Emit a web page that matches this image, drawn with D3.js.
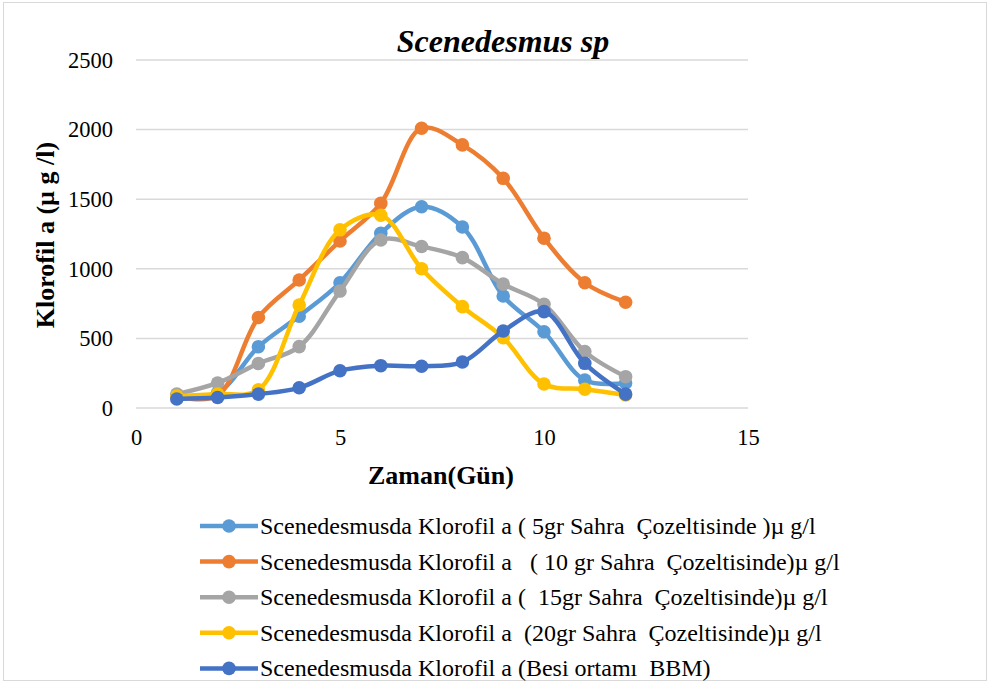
<!DOCTYPE html>
<html><head><meta charset="utf-8">
<script src="https://cdn.jsdelivr.net/npm/d3@7"></script>
<style>body{margin:0;background:#fff}svg{display:block}text{font-family:"Liberation Serif","Times New Roman",serif}</style>
</head><body><svg id="c" width="990" height="684"></svg>
<script>
const days = [1,2,3,4,5,6,7,8,9,10,11,12];
const s5gr  = [90,110,440,660,900,1255,1446,1300,805,548,200,180];
const s10gr = [80,90,650,920,1200,1470,2010,1890,1650,1220,900,760];
const s15gr = [100,180,320,441,840,1207,1160,1080,890,745,405,225];
const s20gr = [85,100,130,740,1280,1385,1000,728,505,172,135,93];
const sBBM  = [65,75,100,145,268,304,300,330,553,692,321,100];
const seriesNames = [
 "Scenedesmusda Klorofil a ( 5gr Sahra  Çozeltisinde )µ g/l",
 "Scenedesmusda Klorofil a   ( 10 gr Sahra  Çozeltisinde)µ g/l",
 "Scenedesmusda Klorofil a (  15gr Sahra  Çozeltisinde)µ g/l",
 "Scenedesmusda Klorofil a  (20gr Sahra  Çozeltisinde)µ g/l",
 "Scenedesmusda Klorofil a (Besi ortamı  BBM)"
];
const seriesColors = ["#5B9BD5","#ED7D31","#A5A5A5","#FFC000","#4472C4"];
const xTicks = [0,5,10,15];
const yTicks = [0,500,1000,1500,2000,2500];
const allSeries = [s5gr,s10gr,s15gr,s20gr,sBBM];

const serif = '"Liberation Serif","Times New Roman",serif';
const svg = d3.select("#c");
svg.append("rect").attr("x",3.5).attr("y",2.5).attr("width",983).attr("height",678)
  .attr("fill","#fff").attr("stroke","#D9D9D9").attr("stroke-width",1);

const x = d3.scaleLinear().domain([0,15]).range([136,748]);
const y = d3.scaleLinear().domain([0,2500]).range([408,60]);

// gridlines
svg.append("g").selectAll("line").data(yTicks).join("line")
  .attr("x1",x(0)).attr("x2",x(15)).attr("y1",d=>y(d)).attr("y2",d=>y(d))
  .attr("stroke","#D9D9D9").attr("stroke-width",1.5);

// axes labels
const yAxis = svg.append("g").attr("transform",`translate(${x(0)-15},0)`)
  .call(d3.axisLeft(y).tickValues(yTicks).tickFormat(d3.format("d")).tickSize(0).tickPadding(8));
yAxis.select(".domain").remove();
yAxis.selectAll("text").style("font-size","22.5px").style("font-family",serif).attr("fill","#000");

const xAxis = svg.append("g").attr("transform",`translate(0,${y(0)+13})`)
  .call(d3.axisBottom(x).tickValues(xTicks).tickFormat(d3.format("d")).tickSize(0).tickPadding(8));
xAxis.select(".domain").remove();
xAxis.selectAll("text").style("font-size","22.5px").style("font-family",serif).attr("fill","#000");

// lines
const line = d3.line().x((d,i)=>x(days[i])).y(d=>y(d)).curve(d3.curveCatmullRom.alpha(0.5));
allSeries.forEach((s,k)=>{
  const g = svg.append("g");
  g.append("path").attr("d",line(s)).attr("fill","none").attr("stroke",seriesColors[k])
    .attr("stroke-width",4.5).attr("stroke-linecap","round").attr("stroke-linejoin","round");
  g.selectAll("circle").data(s).join("circle")
    .attr("cx",(d,i)=>x(days[i])).attr("cy",d=>y(d)).attr("r",6.8).attr("fill",seriesColors[k]);
});

// titles
svg.append("text").attr("x",503).attr("y",52).attr("text-anchor","middle")
  .style("font-size","32px").attr("font-weight","bold").attr("font-style","italic").text("Scenedesmus sp");
svg.append("text").attr("x",441).attr("y",484).attr("text-anchor","middle")
  .style("font-size","26px").attr("font-weight","bold").text("Zaman(Gün)");
svg.append("text").attr("transform","translate(54,235) rotate(-90)").attr("text-anchor","middle")
  .style("font-size","26px").attr("font-weight","bold").text("Klorofil a (µ g /l)");

// legend
const leg = svg.append("g");
seriesNames.forEach((n,k)=>{
  const yy = 526 + k*35.6;
  leg.append("line").attr("x1",200).attr("x2",258).attr("y1",yy).attr("y2",yy)
    .attr("stroke",seriesColors[k]).attr("stroke-width",4.5);
  leg.append("circle").attr("cx",229).attr("cy",yy).attr("r",6.8).attr("fill",seriesColors[k]);
  leg.append("text").attr("x",260).attr("y",yy+8).style("font-size","24px")
    .style("white-space","pre").text(n);
});
</script></body></html>
